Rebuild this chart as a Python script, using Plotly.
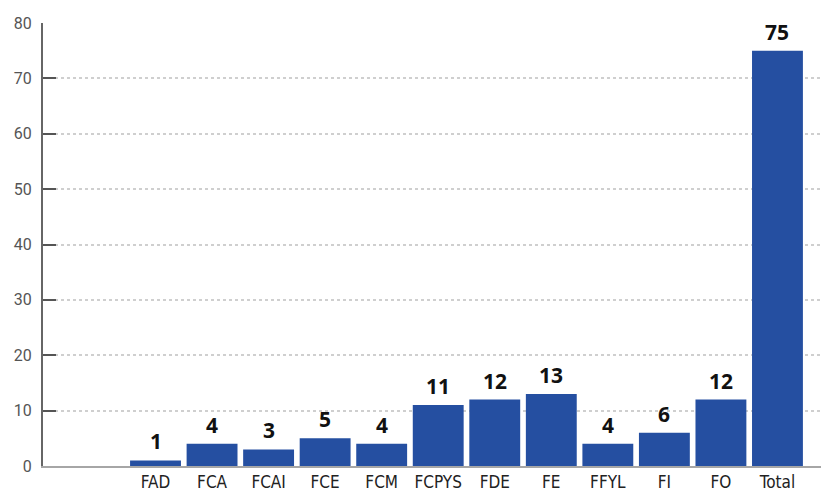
import plotly.graph_objects as go

categories = ["FAD", "FCA", "FCAI", "FCE", "FCM", "FCPYS", "FDE", "FE", "FFYL", "FI", "FO", "Total"]
values = [1, 4, 3, 5, 4, 11, 12, 13, 4, 6, 12, 75]
y_ticks = [0, 10, 20, 30, 40, 50, 60, 70, 80]

bar_color = "#254fa1"

fig = go.Figure()
fig.add_trace(go.Bar(x=categories, y=values, marker=dict(color=bar_color, line=dict(width=0)),
                     hoverinfo="x+y"))

for c, v in zip(categories, values):
    fig.add_annotation(x=c, y=v, text=f"<b>{v}</b>", showarrow=False, yanchor="bottom",
                       yshift=3, font=dict(family="Noto Sans, Open Sans, sans-serif", size=21, color="#111"))

fig.update_layout(
    width=822, height=494,
    margin=dict(l=43, r=1, t=23, b=28),
    plot_bgcolor="white", paper_bgcolor="white",
    bargap=0.1, showlegend=False,
    xaxis=dict(type="category", range=[-1.99, 11.77], showgrid=False, automargin=False,
               showline=True, linecolor="#a6a6a6", linewidth=2,
               ticks="", tickfont=dict(family="Liberation Sans Narrow, DejaVu Sans Condensed, sans-serif", size=17, color="#222"),
               ticklabelstandoff=0),
    yaxis=dict(range=[0, 80], tickvals=y_ticks, showgrid=True, gridcolor="#cfcfcf", griddash="dot", gridwidth=1.5,
               showline=True, linecolor="#666", linewidth=2, ticks="inside", ticklen=13, tickwidth=2,
               tickcolor="#555", zeroline=False, automargin=False,
               tickfont=dict(family="Roboto, sans-serif", size=16, color="#555"), ticklabelstandoff=6),
)

fig.write_html("out.html", config={"displayModeBar": False},
               post_script="document.body.style.margin='0';")
